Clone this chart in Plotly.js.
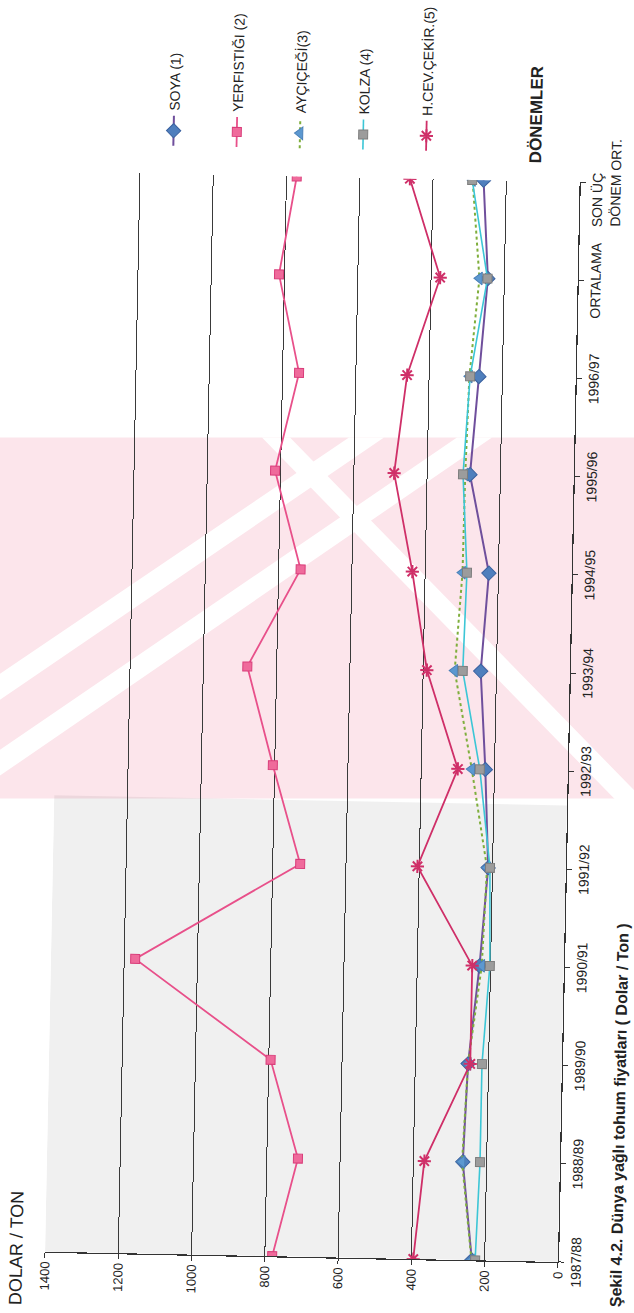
<!DOCTYPE html>
<html>
<head>
<meta charset="utf-8">
<script src="https://cdn.plot.ly/plotly-3.0.1.min.js"></script>
<style>
  html, body { margin: 0; padding: 0; width: 634px; height: 1313px; overflow: hidden; background: #ffffff; }
  /* the chart is laid out landscape and turned onto the portrait page */
  #chart {
    position: absolute;
    width: 1360px; height: 680px;
    left: -363px; top: 316.5px;
    transform: rotate(-88.85deg);
    transform-origin: 50% 50%;
  }
</style>
</head>
<body>
<div id="chart"></div>
<script>
// Dönemler (x ekseni)
const categories = ['1987/88', '1988/89', '1989/90', '1990/91', '1991/92', '1992/93',
                    '1993/94', '1994/95', '1995/96', '1996/97', 'ORTALAMA',
                    'SON ÜÇ&nbsp;&nbsp;&nbsp;&nbsp;&nbsp;&nbsp;&nbsp;&nbsp;&nbsp;<br>DÖNEM ORT.'];

// Fiyatlar, Dolar / Ton
const soya       = [235, 265, 256, 230, 212, 225, 243, 226, 283, 264, 245, 262];
const yerfistigi = [780, 715, 795, 1170, 725, 805, 880, 740, 815, 755, 815, 772];
const aycicegi   = [236, 267, 256, 224, 215, 262, 314, 298, 296, 290, 268, 292];
const kolza      = [226, 218, 218, 202, 207, 240, 292, 286, 302, 288, 246, 293];
const hcevcekir  = [395, 370, 250, 250, 405, 300, 390, 435, 490, 460, 375, 463];

const seriesNames = ['SOYA (1)', 'YERFISTIĞI (2)', 'AYÇIÇEĞİ(3)', 'KOLZA (4)', 'H.CEV.ÇEKİR.(5)'];
const yTicks = [0, 200, 400, 600, 800, 1000, 1200, 1400];

const FONT = "'Liberation Sans', Arial, sans-serif";

const W = 1360, H = 680;
const M = { l: 80, r: 200, t: 80, b: 87 };
const ANGLE = -88.85;

// page pixel (portrait sheet) -> paper coordinates of the landscape chart
function sheetToPaper(px, py) {
  const a = ANGLE * Math.PI / 180;
  const dx = px - 317, dy = py - 656.5;
  const u = W / 2 + Math.cos(a) * dx + Math.sin(a) * dy;
  const v = H / 2 - Math.sin(a) * dx + Math.cos(a) * dy;
  return [(u - M.l) / (W - M.l - M.r), (H - M.b - v) / (H - M.t - M.b)];
}
function polyPath(points) {
  return points.map((p, i) => {
    const q = sheetToPaper(p[0], p[1]);
    return (i ? 'L' : 'M') + q[0].toFixed(5) + ',' + q[1].toFixed(5);
  }).join(' ') + ' Z';
}

// faint pink background band with pale diagonal stripes across the middle of the sheet
const band = [[-10, 437], [650, 437], [650, 798], [-10, 798]];
const stripes = [
  [[-10, 680], [-10, 706], [384, 437], [349, 437]],
  [[-10, 756], [-10, 782], [492, 437], [457, 437]],
  [[262, 437], [290, 437], [650, 806], [622, 806]]
];

const styles = [
  { line: { color: '#6f4f9c', width: 2 },
    marker: { symbol: 'diamond', size: 11, color: '#4f7fbd', line: { color: '#3b62a0', width: 1 } } },
  { line: { color: '#e8508a', width: 1.8 },
    marker: { symbol: 'square', size: 9, color: '#ef6a9b', line: { color: '#d93d7a', width: 1 } } },
  { line: { color: '#7fae3c', width: 2, dash: 'dot' },
    marker: { symbol: 'triangle-up', size: 11, color: '#5c98d0', line: { color: '#4a80b8', width: 1 } } },
  { line: { color: '#3cc6d6', width: 1.6 },
    marker: { symbol: 'square', size: 9, color: '#9c9c9c', line: { color: '#7d7d7d', width: 1 } } },
  { line: { color: '#cf2f68', width: 1.8 },
    marker: { symbol: 'asterisk-open', size: 11, line: { color: '#dc3b74', width: 2 } } }
];

const values = [soya, yerfistigi, aycicegi, kolza, hcevcekir];

const traces = values.map((v, i) => ({
  type: 'scatter',
  mode: 'lines+markers',
  name: seriesNames[i],
  legendgroup: 'g' + i,
  x: categories,
  y: v,
  line: styles[i].line,
  marker: styles[i].marker,
  hoverinfo: 'x+y+name'
}));

const shapes = [
  { type: 'path', xref: 'paper', yref: 'paper', path: polyPath(band),
    fillcolor: 'rgba(236,80,120,0.15)', line: { width: 0 }, layer: 'below' }
].concat(stripes.map(s => ({
  type: 'path', xref: 'paper', yref: 'paper', path: polyPath(s),
  fillcolor: '#ffffff', line: { width: 0 }, layer: 'below'
}))).concat([
  { type: 'rect', xref: 'x', yref: 'y', x0: 0, x1: 4.65, y0: 0, y1: 1400,
    fillcolor: 'rgba(0,0,0,0.06)', line: { width: 0 }, layer: 'below' }
]);

const layout = {
  width: W,
  height: H,
  margin: M,
  paper_bgcolor: 'rgba(0,0,0,0)',
  plot_bgcolor: 'rgba(0,0,0,0)',
  font: { family: FONT, color: '#222222', size: 14 },
  title: {
    text: 'DOLAR / TON',
    xref: 'container', yref: 'container',
    x: 0.0191, y: 0.925, xanchor: 'left', yanchor: 'middle',
    font: { family: FONT, size: 18, color: '#222222' }
  },
  xaxis: {
    type: 'category',
    range: [0, 11],
    tickangle: 0,
    showgrid: false,
    showline: true, linecolor: '#333333', linewidth: 1.2,
    ticks: 'outside', ticklen: 5, tickcolor: '#333333',
    tickfont: { family: FONT, size: 14, color: '#222222' },
    zeroline: false
  },
  // inner half of the crossing tick marks on the period axis
  xaxis2: {
    overlaying: 'x', anchor: 'y', side: 'bottom',
    range: [0, 11], dtick: 1, tick0: 0,
    ticks: 'inside', ticklen: 4, tickcolor: '#333333',
    showticklabels: false, showgrid: false, showline: false, zeroline: false
  },
  yaxis: {
    range: [0, 1400],
    tickvals: yTicks,
    showgrid: true, gridcolor: '#3a3a3a', gridwidth: 1,
    showline: true, linecolor: '#333333', linewidth: 1.2,
    ticks: 'outside', ticklen: 5, tickcolor: '#333333',
    ticklabelstandoff: 1,
    tickfont: { family: FONT, size: 13, color: '#222222' },
    zeroline: false
  },
  legend: {
    x: 1.0216, xanchor: 'left',
    y: 0.8236, yanchor: 'top',
    traceorder: 'grouped',
    tracegroupgap: 42,
    bgcolor: 'rgba(0,0,0,0)',
    font: { family: FONT, size: 14, color: '#222222' }
  },
  shapes: shapes,
  annotations: [
    { text: '<b>DÖNEMLER</b>', xref: 'paper', yref: 'paper', x: 1.015, y: 0.0858,
      xanchor: 'left', yanchor: 'middle', showarrow: false,
      font: { family: FONT, size: 17, color: '#222222' } },
    { text: '<b>Şekil 4.2. Dünya yağlı tohum fiyatları ( Dolar / Ton )</b>', xref: 'paper', yref: 'paper',
      x: -0.043, y: -0.115, xanchor: 'left', yanchor: 'middle', showarrow: false,
      font: { family: FONT, size: 16, color: '#222222' } }
  ]
};

Plotly.newPlot('chart', traces, layout, { displayModeBar: false, staticPlot: true });
</script>
</body>
</html>
